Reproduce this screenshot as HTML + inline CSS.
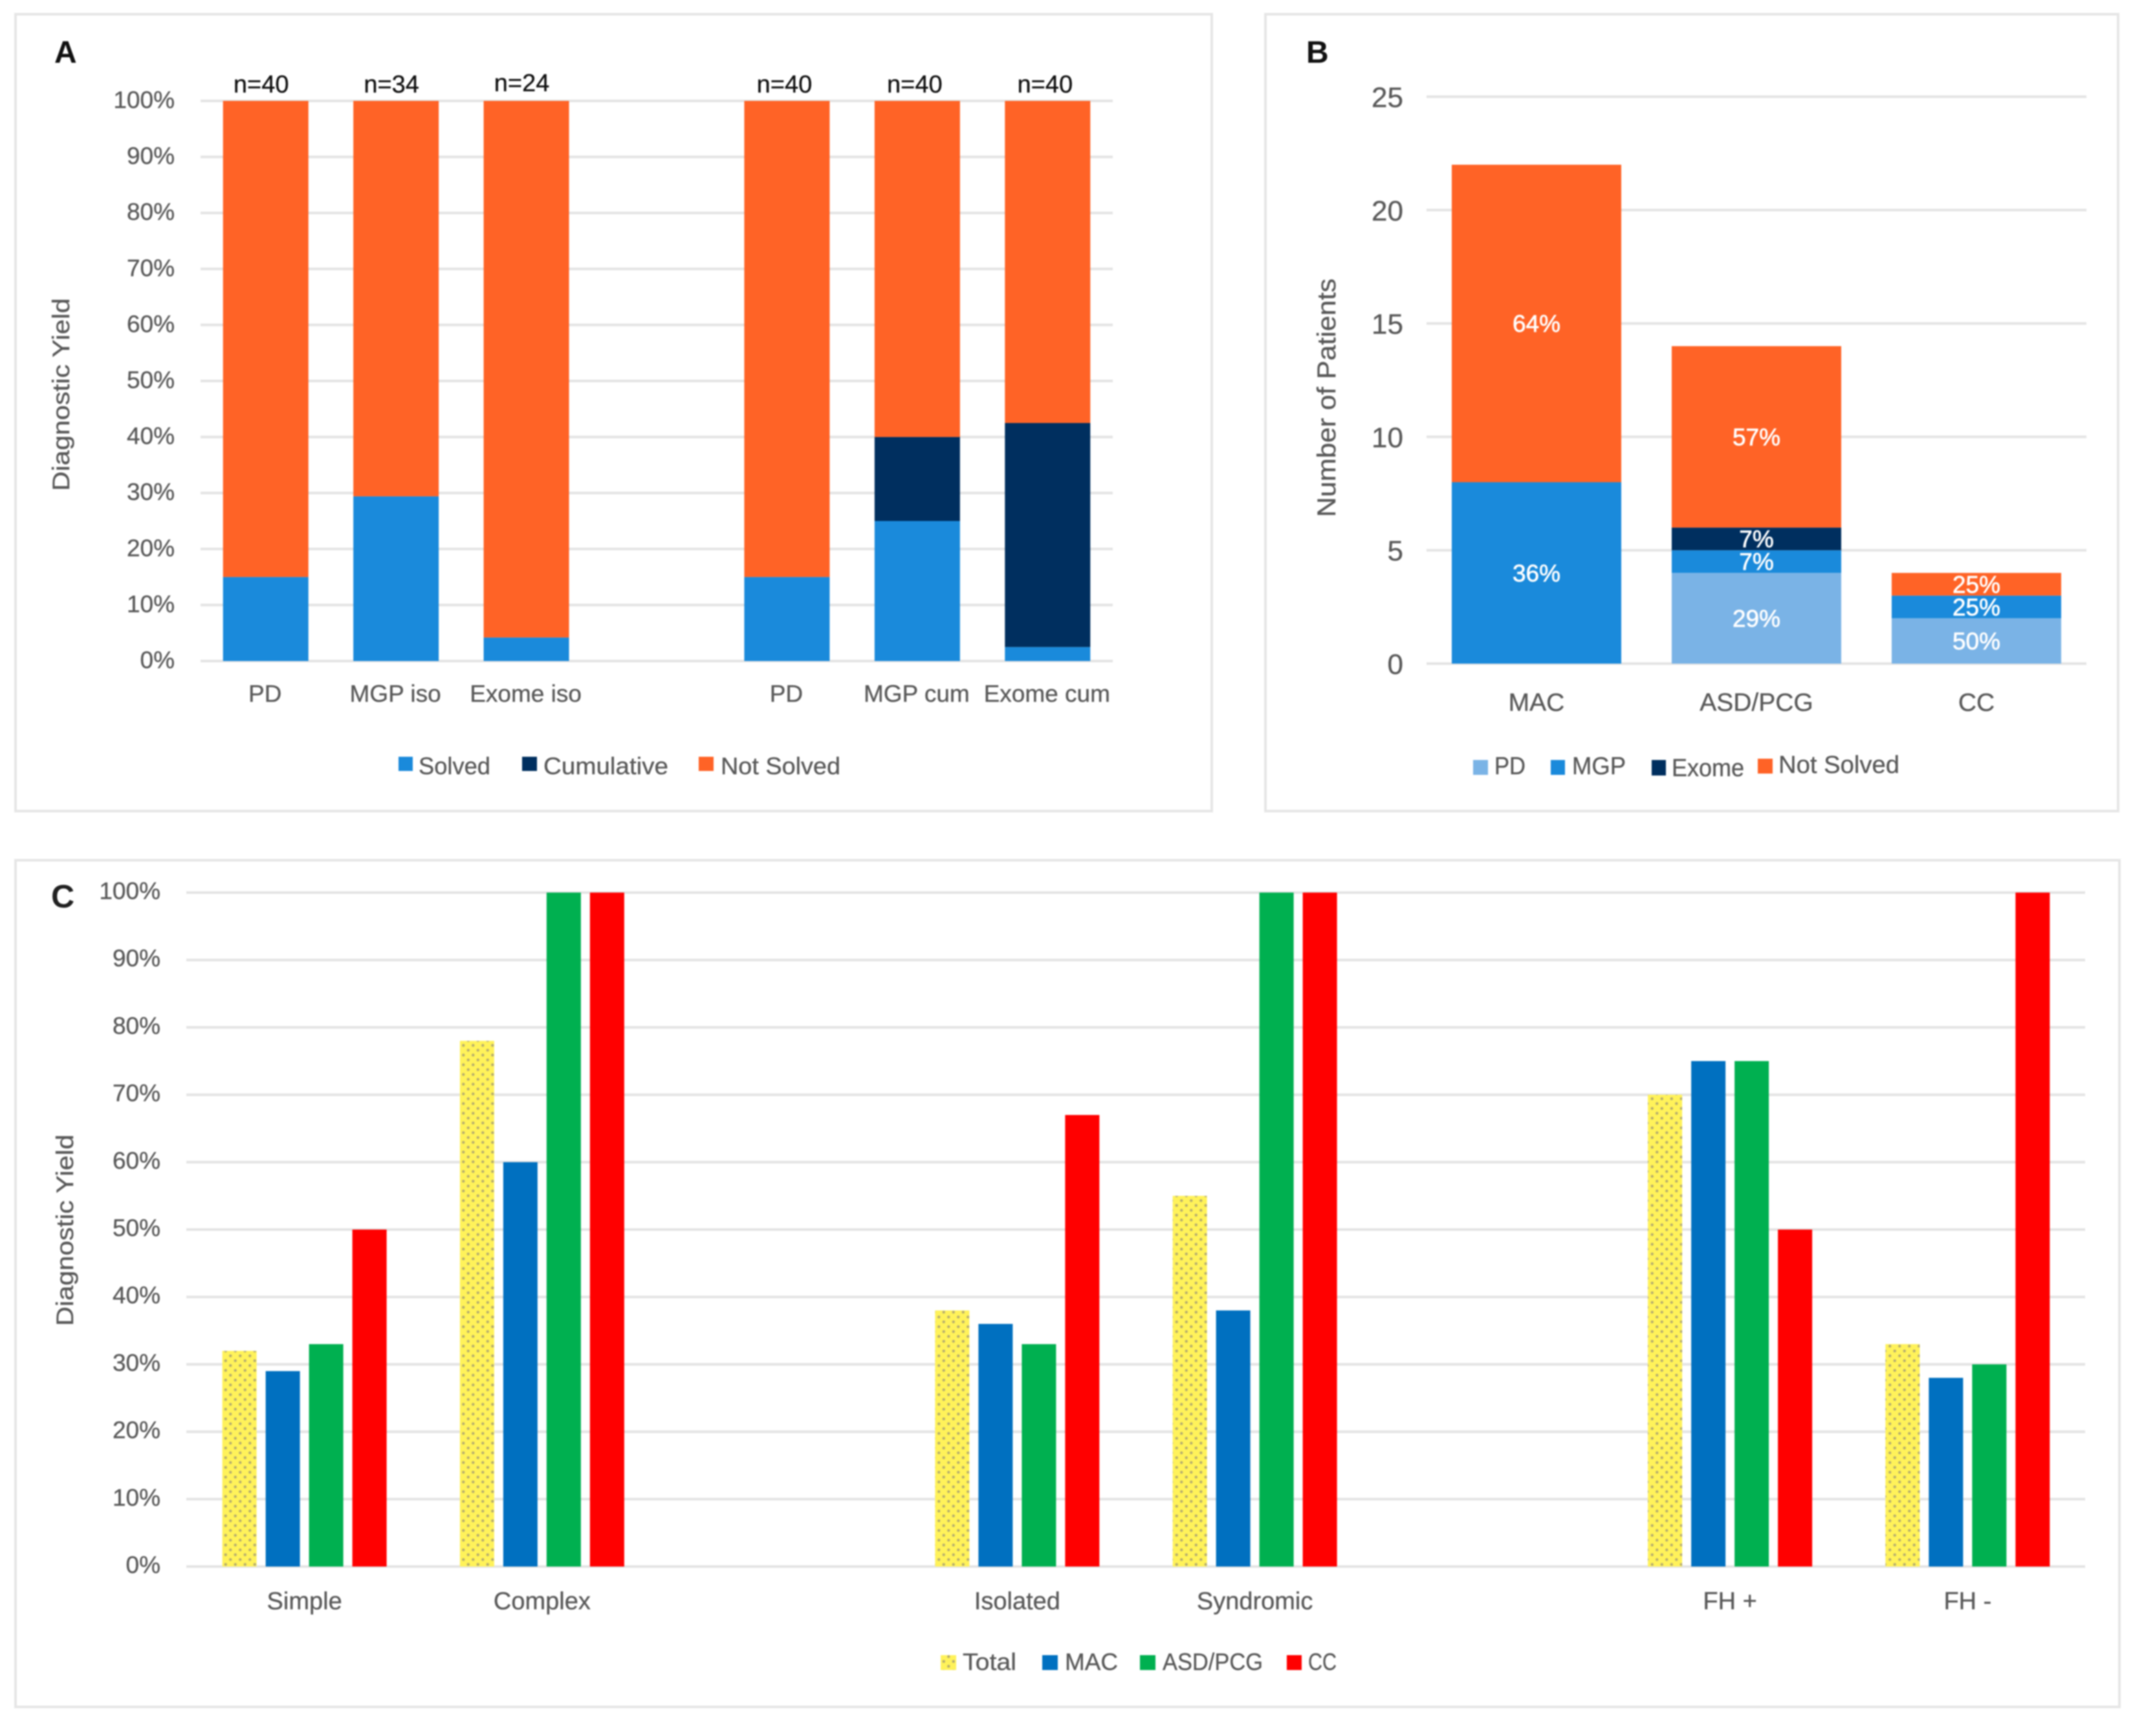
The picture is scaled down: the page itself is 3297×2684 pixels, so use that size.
<!DOCTYPE html>
<html lang="en">
<head>
<meta charset="utf-8">
<title>Diagnostic yield charts</title>
<style>
html,body{margin:0;padding:0;background:#fff}
svg{display:block;filter:blur(1.1px)}
text{font-family:"Liberation Sans",sans-serif;fill:#595959;stroke:#595959;stroke-width:0.35}
</style>
</head>
<body>
<svg id="figure" xmlns="http://www.w3.org/2000/svg" width="3297" height="2684" viewBox="0 0 3297 2684">
<defs>
<pattern id="dots" patternUnits="userSpaceOnUse" width="15" height="15">
<rect width="15" height="15" fill="#fff25a"/>
<circle cx="3.75" cy="3.75" r="2.2" fill="#b5ac6e"/>
<circle cx="11.25" cy="11.25" r="2.2" fill="#b5ac6e"/>
</pattern>
</defs>
<rect width="3297" height="2684" fill="#fff"/>

<rect x="24" y="22" width="1849" height="1232" fill="#fff" stroke="#e6e6e6" stroke-width="4"/>
<rect x="1956" y="22" width="1318" height="1232" fill="#fff" stroke="#e6e6e6" stroke-width="4"/>
<rect x="24" y="1330" width="3252" height="1309" fill="#fff" stroke="#e6e6e6" stroke-width="4"/>

<text x="84" y="97" font-size="48" font-weight="700" style="fill:#111;stroke:none">A</text>
<text x="2019" y="97" font-size="48" font-weight="700" style="fill:#111;stroke:none">B</text>
<text x="79" y="1403" font-size="50" font-weight="700" style="fill:#222;stroke:none">C</text>

<text transform="translate(107,610) rotate(-90)" text-anchor="middle" font-size="37" textLength="298" lengthAdjust="spacingAndGlyphs">Diagnostic Yield</text>
<text transform="translate(2064,615) rotate(-90)" text-anchor="middle" font-size="40" textLength="369" lengthAdjust="spacingAndGlyphs">Number of Patients</text>
<text transform="translate(113,1902) rotate(-90)" text-anchor="middle" font-size="37" textLength="296" lengthAdjust="spacingAndGlyphs">Diagnostic Yield</text>

<g id="plot-a"></g>
<g id="plot-b"></g>
<g id="plot-c"></g>

<g font-size="37">
<g><rect x="616" y="1170" width="22" height="22" fill="#1a8adb"/><text x="647" y="1197" textLength="111" lengthAdjust="spacingAndGlyphs">Solved</text></g>
<g><rect x="807" y="1170" width="23" height="22" fill="#002f5f"/><text x="840" y="1197" textLength="193" lengthAdjust="spacingAndGlyphs">Cumulative</text></g>
<g><rect x="1080" y="1170" width="23" height="22" fill="#ff6326"/><text x="1114" y="1197" textLength="185" lengthAdjust="spacingAndGlyphs">Not Solved</text></g>
</g>

<g font-size="38">
<g><rect x="2277" y="1175" width="23" height="23" fill="#7ab3e6"/><text x="2310" y="1197" textLength="48" lengthAdjust="spacingAndGlyphs">PD</text></g>
<g><rect x="2397" y="1175" width="22" height="23" fill="#1a8adb"/><text x="2430" y="1197" textLength="83" lengthAdjust="spacingAndGlyphs">MGP</text></g>
<g><rect x="2553" y="1175" width="22" height="24" fill="#002f5f"/><text x="2584" y="1200" textLength="112" lengthAdjust="spacingAndGlyphs">Exome</text></g>
<g><rect x="2717" y="1173" width="23" height="23" fill="#ff6326"/><text x="2749" y="1195" textLength="187" lengthAdjust="spacingAndGlyphs">Not Solved</text></g>
</g>

<g font-size="37">
<g><rect x="1454" y="2559" width="24" height="23" fill="url(#dots)"/><text x="1488" y="2582" textLength="83" lengthAdjust="spacingAndGlyphs">Total</text></g>
<g><rect x="1611" y="2559" width="24" height="23" fill="#0070c0"/><text x="1646" y="2582" textLength="82" lengthAdjust="spacingAndGlyphs">MAC</text></g>
<g><rect x="1762" y="2559" width="24" height="23" fill="#00b050"/><text x="1797" y="2582" textLength="155" lengthAdjust="spacingAndGlyphs">ASD/PCG</text></g>
<g><rect x="1989" y="2559" width="23" height="23" fill="#ff0000"/><text x="2022" y="2582" textLength="44" lengthAdjust="spacingAndGlyphs">CC</text></g>
</g>
</svg>

<script>
// Panel A data
const aCategories = ['PD', 'MGP iso', 'Exome iso', '', 'PD', 'MGP cum', 'Exome cum'];
const aCounts = ['n=40', 'n=34', 'n=24', '', 'n=40', 'n=40', 'n=40'];
const aSolved = [15, 29.4, 4.2, 0, 15, 25, 2.5];
const aCumulative = [0, 0, 0, 0, 0, 15, 40];
const aNotSolved = [85, 70.6, 95.8, 0, 85, 60, 57.5];
const aTicks = ['0%', '10%', '20%', '30%', '40%', '50%', '60%', '70%', '80%', '90%', '100%'];
const aTickValues = [0, 10, 20, 30, 40, 50, 60, 70, 80, 90, 100];

// Panel B data
const bCategories = ['MAC', 'ASD/PCG', 'CC'];
const bPD = [0, 4, 2];
const bMGP = [8, 1, 1];
const bExome = [0, 1, 0];
const bNotSolved = [14, 8, 1];
const bPDLabels = ['', '29%', '50%'];
const bMGPLabels = ['36%', '7%', '25%'];
const bExomeLabels = ['', '7%', ''];
const bNotSolvedLabels = ['64%', '57%', '25%'];
const bTicks = ['0', '5', '10', '15', '20', '25'];
const bTickValues = [0, 5, 10, 15, 20, 25];

// Panel C data
const cCategories = ['Simple', 'Complex', '', 'Isolated', 'Syndromic', '', 'FH +', 'FH -'];
const cTotal = [32, 78, 0, 38, 55, 0, 70, 33];
const cMAC = [29, 60, 0, 36, 38, 0, 75, 28];
const cASD = [33, 100, 0, 33, 100, 0, 75, 30];
const cCC = [50, 100, 0, 67, 100, 0, 50, 100];
const cTicks = ['0%', '10%', '20%', '30%', '40%', '50%', '60%', '70%', '80%', '90%', '100%'];
const cTickValues = [0, 10, 20, 30, 40, 50, 60, 70, 80, 90, 100];

const NS = 'http://www.w3.org/2000/svg';
const GRID = '#e4e4e4';

function make(parent, tag, props, content) {
  const el = document.createElementNS(NS, tag);
  for (const k in props) el.setAttribute(k, props[k]);
  if (content !== undefined) el.textContent = content;
  parent.appendChild(el);
  return el;
}

/* ---------- Panel A ---------- */
const plotA = document.getElementById('plot-a');
const ax = { left: 310, right: 1720, top: 156, bottom: 1022, barWidth: 132 };
function aX(i) { return ax.left + (ax.right - ax.left) / aCategories.length * (i + 0.5); }
function aY(v) { return ax.bottom - (ax.bottom - ax.top) * v / 100; }

aTickValues.forEach(function (v, i) {
  const line = make(plotA, 'line', { x1: ax.left, x2: ax.right, y1: aY(v), y2: aY(v), stroke: GRID, 'stroke-width': 4 });
  
  
  const label = make(plotA, 'text', { x: 270, y: aY(v) + 11, 'text-anchor': 'end', 'font-size': 37 }, aTicks[i]);
  
  
});

function aSegment(i, base, value, color) {
  return make(plotA, 'rect', {
    x: aX(i) - ax.barWidth / 2,
    y: aY(base + value),
    width: ax.barWidth,
    height: aY(base) - aY(base + value),
    fill: color
  });
}

aCategories.forEach(function (cat, i) {
  if (!cat) return;
  const s = aSegment(i, 0, aSolved[i], '#1a8adb');
  
  
  if (aCumulative[i] > 0) {
    const c = aSegment(i, aSolved[i], aCumulative[i], '#002f5f');
    
    
  }
  const n = aSegment(i, aSolved[i] + aCumulative[i], aNotSolved[i], '#ff6326');
  
  
  const xl = make(plotA, 'text', { x: aX(i) - 1, y: 1085, 'text-anchor': 'middle', 'font-size': 37 }, cat);
  
  
  const cnt = make(plotA, 'text', { x: aX(i) + (i < 3 ? -7 : -4), y: i === 2 ? 141 : 143, 'text-anchor': 'middle', 'font-size': 38, style: 'fill:#111;stroke:#111' }, aCounts[i]);
  
  
});

/* ---------- Panel B ---------- */
const plotB = document.getElementById('plot-b');
const bx = { left: 2205, right: 3225, top: 149.5, bottom: 1026, max: 25, barWidth: 262 };
function bX(i) { return bx.left + (bx.right - bx.left) / bCategories.length * (i + 0.5); }
function bY(v) { return bx.bottom - (bx.bottom - bx.top) * v / bx.max; }

bTickValues.forEach(function (v, i) {
  const line = make(plotB, 'line', { x1: bx.left, x2: bx.right, y1: bY(v), y2: bY(v), stroke: GRID, 'stroke-width': 4 });
  
  
  const label = make(plotB, 'text', { x: 2169, y: bY(v) + 16, 'text-anchor': 'end', 'font-size': 44 }, bTicks[i]);
  
  
});

function bSegment(i, base, value, color) {
  if (value <= 0) return null;
  return make(plotB, 'rect', {
    x: bX(i) - bx.barWidth / 2,
    y: bY(base + value),
    width: bx.barWidth,
    height: bY(base) - bY(base + value),
    fill: color
  });
}
function bValueLabel(i, base, value, text) {
  return make(plotB, 'text', {
    x: bX(i),
    y: bY(base + value / 2) + 13,
    'text-anchor': 'middle',
    'font-size': 37,
    style: 'fill:#fff;stroke:#fff;stroke-width:0.7'
  }, text);
}

bCategories.forEach(function (cat, i) {
  let base = 0;
  const p = bSegment(i, base, bPD[i], '#7ab3e6');
  if (p) {
    
    
  }
  base += bPD[i];
  const m = bSegment(i, base, bMGP[i], '#1a8adb');
  if (m) {
    
    
  }
  base += bMGP[i];
  const e = bSegment(i, base, bExome[i], '#002f5f');
  if (e) {
    
    
  }
  base += bExome[i];
  const n = bSegment(i, base, bNotSolved[i], '#ff6326');
  if (n) {
    
    
  }
  const xl = make(plotB, 'text', { x: bX(i), y: 1099, 'text-anchor': 'middle', 'font-size': 39 }, cat);
  
  
});

bCategories.forEach(function (cat, i) {
  if (bPDLabels[i]) {
    const t = bValueLabel(i, 0, bPD[i], bPDLabels[i]);
    
    
  }
  if (bMGPLabels[i]) {
    const t = bValueLabel(i, bPD[i], bMGP[i], bMGPLabels[i]);
    
    
  }
  if (bExomeLabels[i]) {
    const t = bValueLabel(i, bPD[i] + bMGP[i], bExome[i], bExomeLabels[i]);
    
    
  }
  if (bNotSolvedLabels[i]) {
    const t = bValueLabel(i, bPD[i] + bMGP[i] + bExome[i], bNotSolved[i], bNotSolvedLabels[i]);
    
    
  }
});

/* ---------- Panel C ---------- */
const plotC = document.getElementById('plot-c');
const cx = { left: 287, right: 3225, top: 1380, bottom: 2422, barWidth: 53, barStep: 67 };
function cCenter(i) { return cx.left + (cx.right - cx.left) / cCategories.length * (i + 0.5); }
function cX(i, s) { return cCenter(i) + (s - 1.5) * cx.barStep - cx.barWidth / 2; }
function cY(v) { return cx.bottom - (cx.bottom - cx.top) * v / 100; }

cTickValues.forEach(function (v, i) {
  const line = make(plotC, 'line', { x1: cx.left + 1, x2: cx.right - 2, y1: cY(v), y2: cY(v), stroke: GRID, 'stroke-width': 4 });
  
  
  const label = make(plotC, 'text', { x: 248, y: cY(v) + 10, 'text-anchor': 'end', 'font-size': 37 }, cTicks[i]);
  
  
});

function cBar(i, s, value, fill) {
  return make(plotC, 'rect', {
    x: cX(i, s),
    y: cY(value),
    width: cx.barWidth,
    height: cY(0) - cY(value),
    fill: fill
  });
}

cCategories.forEach(function (cat, i) {
  if (!cat) return;
  const b0 = cBar(i, 0, cTotal[i], 'url(#dots)');
  
  
  const b1 = cBar(i, 1, cMAC[i], '#0070c0');
  
  
  const b2 = cBar(i, 2, cASD[i], '#00b050');
  
  
  const b3 = cBar(i, 3, cCC[i], '#ff0000');
  
  
  const xl = make(plotC, 'text', {
    x: cCenter(i),
    y: 2488,
    'text-anchor': 'middle',
    'font-size': 38
  }, cat);
  
  
});
</script>
</body>
</html>
